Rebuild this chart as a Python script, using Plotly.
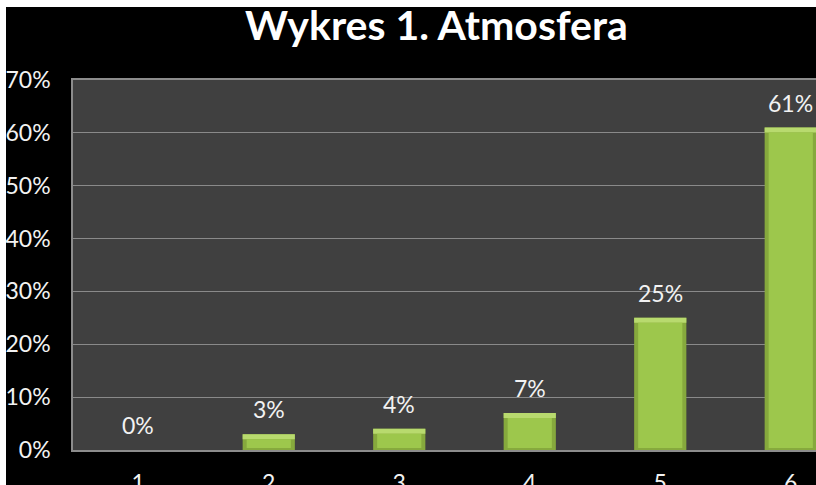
import plotly.graph_objects as go

categories = [1, 2, 3, 4, 5, 6]
values = [0.00, 0.03, 0.04, 0.07, 0.25, 0.61]
value_labels = ["0%", "3%", "4%", "7%", "25%", "61%"]
y_ticks = [0, 0.1, 0.2, 0.3, 0.4, 0.5, 0.6, 0.7]
y_tick_labels = ["0%", "10%", "20%", "30%", "40%", "50%", "60%", "70%"]
x_tick_labels = ["1", "2", "3", "4", "5", "6"]
title_text = "Wykres 1. Atmosfera"

FONT = "Lato"
W, H = 816, 485
L, R, T, B = 73, 0, 80, 35
pw = W - L - R
ph = H - T - B
unit = 0.7 / ph  # data units per pixel on y

fig = go.Figure()
# bevelled bar look: darker outer body, light top edge, mid-green face
fig.add_trace(go.Bar(
    x=categories, y=values, width=0.4,
    marker=dict(color="#86A93D", line=dict(width=0)), hoverinfo="skip",
))
fig.add_trace(go.Bar(
    x=categories, y=[5 * unit if v > 0 else 0 for v in values],
    base=[v - 5 * unit for v in values], width=0.4,
    marker=dict(color="#B8DA6E", line=dict(width=0)), hoverinfo="skip",
))
fig.add_trace(go.Bar(
    x=categories, y=[max(v - 7 * unit, 0) for v in values],
    base=[2 * unit for v in values], width=0.4 - 8 / 130.5,
    marker=dict(color="#9DC74C", line=dict(width=0)), hoverinfo="skip",
))

annotations = []
for c, v, t in zip(categories, values, value_labels):
    annotations.append(dict(
        x=c, y=v, xref="x", yref="y", text=t, showarrow=False,
        yanchor="bottom", yshift=9,
        font=dict(family=FONT, size=23, color="#F2F2F2"),
    ))
annotations.append(dict(
    x=(436 - L) / pw, y=(450 - 25) / ph, xref="paper", yref="paper",
    text="<b>" + title_text + "</b>", showarrow=False,
    xanchor="center", yanchor="middle",
    font=dict(family=FONT, size=41, color="#FFFFFF"),
))

shapes = [
    # thin white strips at top and left edges of the picture
    dict(type="rect", xref="paper", yref="paper",
         x0=-L / pw - 0.01, x1=1.01, y0=(450 - 7) / ph, y1=(450 + 5) / ph,
         fillcolor="#FFFFFF", line=dict(width=0), layer="above"),
    dict(type="rect", xref="paper", yref="paper",
         x0=-L / pw - 0.01, x1=(6 - L) / pw, y0=-B / ph - 0.01, y1=(450 + 5) / ph,
         fillcolor="#FFFFFF", line=dict(width=0), layer="above"),
]

fig.update_layout(
    width=W, height=H,
    margin=dict(l=L, r=R, t=T, b=B, pad=0, autoexpand=False),
    paper_bgcolor="#000000",
    plot_bgcolor="#404040",
    showlegend=False,
    barmode="overlay",
    annotations=annotations,
    shapes=shapes,
    font=dict(family=FONT, color="#F2F2F2"),
    xaxis=dict(
        tickmode="array", tickvals=categories, ticktext=x_tick_labels,
        range=[0.5, 0.5 + pw / 130.5], automargin=False,
        showgrid=False, zeroline=False,
        showline=True, linecolor="#8C8C8C", linewidth=1.5, mirror=True,
        ticks="", ticklabelstandoff=12,
        tickfont=dict(family=FONT, size=23, color="#F2F2F2"),
    ),
    yaxis=dict(
        tickmode="array", tickvals=y_ticks, ticktext=y_tick_labels,
        range=[0, 0.7], automargin=False,
        showgrid=True, gridcolor="#8A8A8A", gridwidth=1,
        zeroline=False,
        showline=True, linecolor="#8C8C8C", linewidth=1.5,
        ticks="", ticklabelstandoff=16,
        tickfont=dict(family=FONT, size=23, color="#F2F2F2"),
    ),
)

fig.write_html(
    "out.html",
    config={"displayModeBar": False},
    post_script="document.body.style.margin='0';document.body.style.overflow='hidden';"
                "document.documentElement.style.overflow='hidden';",
)
